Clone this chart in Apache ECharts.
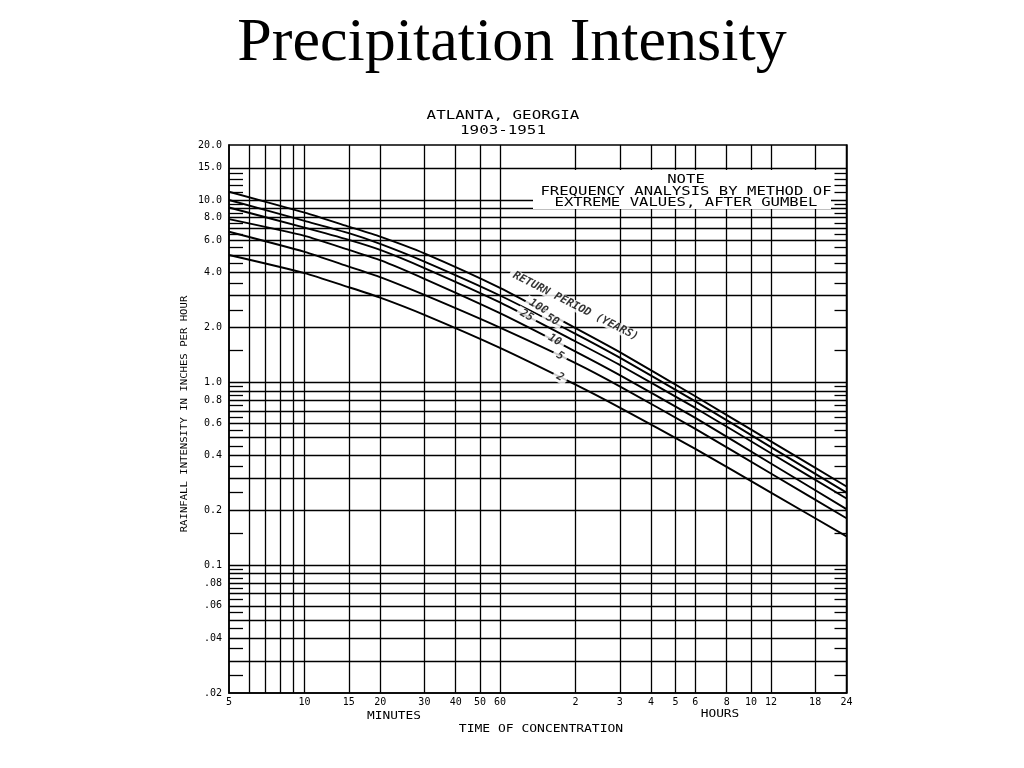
<!DOCTYPE html>
<html>
<head>
<meta charset="utf-8">
<script src="https://cdn.jsdelivr.net/npm/echarts@6/dist/echarts.min.js"></script>
<style>
html,body{margin:0;padding:0;background:#fff;}
#main{width:1024px;height:768px;}
</style>
</head>
<body>
<div id="main"></div>
<script>
// ---- data (minutes, inches per hour) ----
const durationsMin = [5, 10, 15, 20, 30, 60, 120, 180, 360, 720, 1440];
const rp100 = [11.1, 8.52, 7.15, 6.30, 5.10, 3.30, 1.99, 1.47, 0.842, 0.477, 0.270];
const rp50  = [10.0, 7.68, 6.58, 5.75, 4.60, 3.00, 1.85, 1.37, 0.790, 0.444, 0.250];
const rp25  = [9.10, 7.06, 6.05, 5.33, 4.24, 2.75, 1.68, 1.25, 0.727, 0.411, 0.232];
const rp10  = [7.85, 6.36, 5.33, 4.68, 3.70, 2.40, 1.48, 1.10, 0.641, 0.361, 0.203];
const rp5   = [6.70, 5.20, 4.32, 3.78, 3.02, 2.00, 1.28, 0.955, 0.558, 0.318, 0.181];
const rp2   = [5.00, 3.98, 3.33, 2.92, 2.35, 1.55, 0.975, 0.730, 0.434, 0.250, 0.144];
const returnPeriods = ['100', '50', '25', '10', '5', '2'];

const xTickValues = [5, 10, 15, 20, 30, 40, 50, 60, 120, 180, 240, 300, 360, 480, 600, 720, 1080, 1440];
const xTickLabels = ['5', '10', '15', '20', '30', '40', '50', '60', '2', '3', '4', '5', '6', '8', '10', '12', '18', '24'];
const yTickValues = [20, 15, 10, 8, 6, 4, 2, 1, 0.8, 0.6, 0.4, 0.2, 0.1, 0.08, 0.06, 0.04, 0.02];
const yTickLabels = ['20.0', '15.0', '10.0', '8.0', '6.0', '4.0', '2.0', '1.0', '0.8', '0.6', '0.4', '0.2', '0.1', '.08', '.06', '.04', '.02'];
const xGridValues = [6, 7, 8, 9, 10, 15, 20, 30, 40, 50, 60, 120, 180, 240, 300, 360, 480, 600, 720, 1080];
const yGridValues = [15, 10, 9, 8, 7, 6, 5, 4, 3, 2, 1, 0.9, 0.8, 0.7, 0.6, 0.5, 0.4, 0.3, 0.2, 0.1, 0.09, 0.08, 0.07, 0.06, 0.05, 0.04, 0.03];
const yMinorTicks = [14, 13, 12, 11, 9.5, 8.5, 7.5, 6.5, 5.5, 4.5, 3.5, 2.5, 1.5, 0.95, 0.85, 0.75, 0.65, 0.55, 0.45, 0.35, 0.25, 0.15, 0.095, 0.085, 0.075, 0.065, 0.055, 0.045, 0.035, 0.025];

// ---- chart ----
const MONO = '"DejaVu Sans Mono", "Liberation Mono", monospace';
const chart = echarts.init(document.getElementById('main'), null, {renderer: 'canvas'});

function nearestLabel(v, values, labels) {
  let best = 0, bd = Infinity;
  const lv = Math.log10(v);
  for (let i = 0; i < values.length; i++) {
    const d = Math.abs(Math.log10(values[i]) - lv);
    if (d < bd) { bd = d; best = i; }
  }
  return labels[best];
}

const curveSets = [rp100, rp50, rp25, rp10, rp5, rp2];
const lineStyleGrid = {color: '#000', width: 1.3, type: 'solid'};

const curveSeries = curveSets.map((vals, k) => {
  const s = {
    name: returnPeriods[k] + '-year',
    type: 'line',
    xAxisIndex: 0, yAxisIndex: 0,
    data: durationsMin.map((t, i) => [t, vals[i]]),
    showSymbol: false,
    symbol: 'none',
    smooth: 0.2,
    lineStyle: {color: '#000', width: 1.9},
    z: 3,
    silent: true
  };
  if (k === 0) {
    s.markLine = {
      silent: true,
      symbol: ['none', 'none'],
      label: {show: false},
      lineStyle: lineStyleGrid,
      emphasis: {disabled: true},
      animation: false,
      data: xGridValues.map(v => ({xAxis: v})).concat(yGridValues.map(v => ({yAxis: v})))
    };
  }
  return s;
});

// annotation labels placed in data coordinates (minutes, in/hr)
const annotations = [
  {text: 'RETURN PERIOD (YEARS)', t: 120, i: 2.62, rot: -27, size: 11},
  {text: '100', t: 85.4, i: 2.6, rot: -30, size: 11},
  {text: '50', t: 97, i: 2.21, rot: -30, size: 11},
  {text: '25', t: 76.7, i: 2.33, rot: -30, size: 11},
  {text: '10', t: 99, i: 1.71, rot: -30, size: 11},
  {text: '5', t: 104, i: 1.40, rot: -30, size: 11},
  {text: '2', t: 104, i: 1.07, rot: -30, size: 11}
];

const labelSeries = {
  name: 'labels',
  type: 'scatter',
  symbolSize: 0,
  silent: true,
  z: 10,
  data: annotations.map(a => ({
    value: [a.t, a.i],
    label: {
      show: true,
      formatter: a.text,
      rotate: a.rot,
      position: 'inside',
      fontFamily: MONO,
      fontSize: a.size,
      fontStyle: 'italic',
      fontWeight: 'bold',
      color: '#000',
      backgroundColor: '#fff',
      padding: [0, 4]
    }
  }))
};

const option = {
  animation: false,
  backgroundColor: '#fff',
  title: {
    text: 'Precipitation Intensity',
    left: 'center',
    top: 8,
    textStyle: {fontFamily: '"Liberation Serif", "Times New Roman", serif', fontSize: 62, fontWeight: 'normal', color: '#000'}
  },
  grid: {
    left: 229, right: 177.5, top: 145, bottom: 75,
    show: true, borderColor: '#000', borderWidth: 1.5, backgroundColor: '#fff'
  },
  xAxis: [{
    type: 'log', logBase: 10, min: 5, max: 1440,
    axisLine: {show: true, lineStyle: {color: '#000', width: 1.5}},
    axisTick: {show: false},
    splitLine: {show: false},
    minorTick: {show: false}, minorSplitLine: {show: false},
    axisLabel: {
      customValues: xTickValues,
      formatter: v => nearestLabel(v, xTickValues, xTickLabels),
      fontFamily: MONO, fontSize: 10, color: '#000', margin: 4,
      showMinLabel: true, showMaxLabel: true, hideOverlap: false
    }
  }],
  yAxis: [{
    type: 'log', logBase: 10, min: 0.02, max: 20, position: 'left',
    axisLine: {show: true, lineStyle: {color: '#000', width: 1.5}},
    axisTick: {show: true, inside: true, length: 14, customValues: yMinorTicks, lineStyle: {color: '#000', width: 1.3}},
    splitLine: {show: false},
    minorTick: {show: false}, minorSplitLine: {show: false},
    axisLabel: {
      customValues: yTickValues,
      formatter: v => nearestLabel(v, yTickValues, yTickLabels),
      fontFamily: MONO, fontSize: 10, color: '#000', margin: 7,
      showMinLabel: true, showMaxLabel: true, hideOverlap: false
    }
  }, {
    type: 'log', logBase: 10, min: 0.02, max: 20, position: 'right',
    axisLine: {show: true, lineStyle: {color: '#000', width: 1.5}},
    axisTick: {show: true, inside: true, length: 12, customValues: yMinorTicks, lineStyle: {color: '#000', width: 1.3}},
    splitLine: {show: false},
    axisLabel: {show: false}
  }],
  series: curveSeries.concat([labelSeries]),
  graphic: [
    {type: 'text', x: 503, y: 123, z: 50, scaleX: 1.22,
      style: {text: 'ATLANTA, GEORGIA\n1903-1951', font: '13px ' + MONO, textAlign: 'center', textVerticalAlign: 'middle', lineHeight: 15, fill: '#000'}},
    {type: 'rect', z: 50, shape: {x: 533, y: 170, width: 298, height: 39}, style: {fill: '#fff'}},
    {type: 'text', x: 686, y: 191.5, z: 51, scaleX: 1.3,
      style: {text: 'NOTE\nFREQUENCY ANALYSIS BY METHOD OF\nEXTREME VALUES, AFTER GUMBEL', font: '12px ' + MONO, textAlign: 'center', textVerticalAlign: 'middle', lineHeight: 11.5, fill: '#000'}},
    {type: 'text', x: 185, y: 414, z: 50, rotation: Math.PI / 2, scaleX: 1.18,
      style: {text: 'RAINFALL INTENSITY IN INCHES PER HOUR', font: '9px ' + MONO, textAlign: 'center', textVerticalAlign: 'middle', fill: '#000'}},
    {type: 'text', x: 394, y: 716, z: 50, scaleX: 1.28,
      style: {text: 'MINUTES', font: '10px ' + MONO, textAlign: 'center', textVerticalAlign: 'middle', fill: '#000'}},
    {type: 'text', x: 720, y: 714, z: 50, scaleX: 1.28,
      style: {text: 'HOURS', font: '10px ' + MONO, textAlign: 'center', textVerticalAlign: 'middle', fill: '#000'}},
    {type: 'text', x: 541, y: 729, z: 50, scaleX: 1.3,
      style: {text: 'TIME OF CONCENTRATION', font: '10px ' + MONO, textAlign: 'center', textVerticalAlign: 'middle', fill: '#000'}}
  ]
};

chart.setOption(option);
</script>
</body>
</html>
